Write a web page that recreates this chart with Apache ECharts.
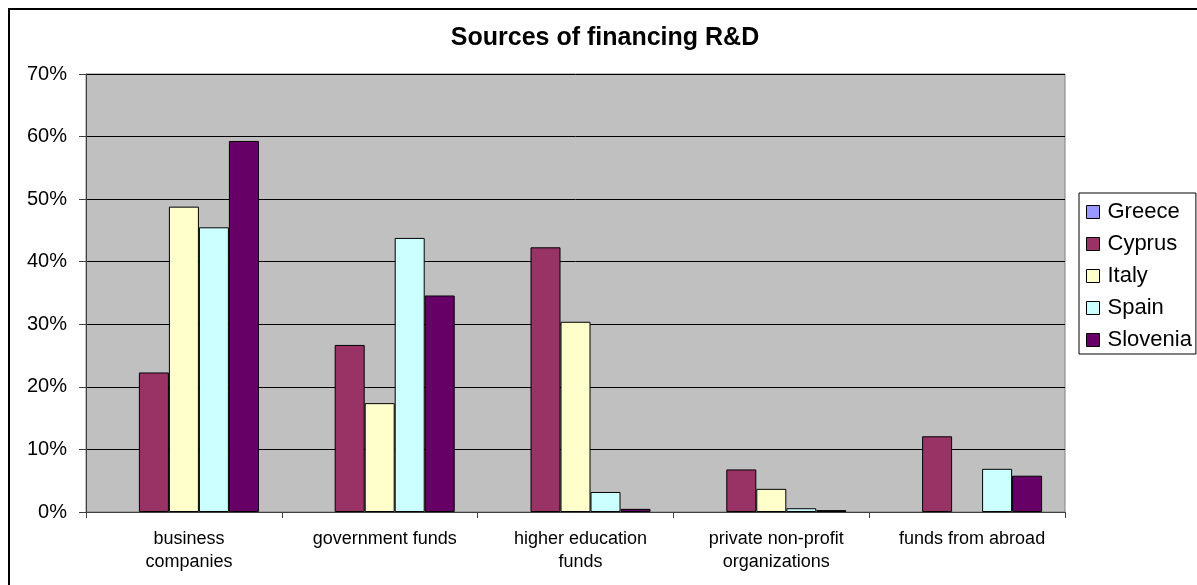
<!DOCTYPE html>
<html>
<head>
<meta charset="utf-8">
<title>Sources of financing R&amp;D</title>
<script src="https://cdn.jsdelivr.net/npm/echarts@6/dist/echarts.min.js"></script>
<style>
  html, body { margin: 0; padding: 0; background: #fff; }
  #chart { width: 1197px; height: 585px; }
</style>
</head>
<body>
<div id="chart"></div>
<script>
// Share of R&D financing by source, percent
const categories = [
  'business\ncompanies',
  'government funds',
  'higher education\nfunds',
  'private non-profit\norganizations',
  'funds from abroad'
];
const countries = ['Greece', 'Cyprus', 'Italy', 'Spain', 'Slovenia'];
const greece   = [null, null, null, null, null];
const cyprus   = [22.3, 26.7, 42.3, 6.8, 12.1];
const italy    = [48.8, 17.4, 30.4, 3.7, null];
const spain    = [45.5, 43.8, 3.2, 0.6, 6.9];
const slovenia = [59.3, 34.6, 0.5, 0.3, 5.8];
const yTicks = [0, 10, 20, 30, 40, 50, 60, 70];

const colors = ['#9999FF', '#993366', '#FFFFCC', '#CCFFFF', '#660066'];
const seriesData = [greece, cyprus, italy, spain, slovenia];
const FONT = '"Liberation Sans", Arial, sans-serif';

const chart = echarts.init(document.getElementById('chart'), null, { renderer: 'canvas' });

chart.setOption({
  animation: false,
  backgroundColor: '#ffffff',
  textStyle: { fontFamily: FONT, color: '#000' },
  title: {
    text: 'Sources of financing R&D',
    left: 600,
    textAlign: 'center',
    top: 21,
    textStyle: { fontFamily: FONT, fontSize: 25, fontWeight: 'bold', color: '#000' }
  },
  graphic: [{
    type: 'rect',
    shape: { x: 9, y: 9, width: 1300, height: 700 },
    style: { fill: 'none', stroke: '#000', lineWidth: 2 },
    silent: true
  }],
  legend: {
    orient: 'vertical',
    left: 1079,
    top: 193,
    padding: [8, 4, 3, 7],
    itemGap: 10,
    itemWidth: 13,
    itemHeight: 13,
    icon: 'rect',
    borderColor: '#000',
    borderWidth: 1,
    backgroundColor: '#fff',
    itemStyle: { borderColor: '#000', borderWidth: 1 },
    textStyle: { fontFamily: FONT, fontSize: 22, color: '#000', lineHeight: 22, padding: [0, 0, 0, 3] },
    data: countries
  },
  grid: {
    left: 86,
    right: 132,
    top: 74,
    bottom: 73,
    show: true,
    backgroundColor: '#C0C0C0',
    borderColor: '#808080',
    borderWidth: 1,
    containLabel: false
  },
  xAxis: {
    type: 'category',
    data: categories,
    axisLine: { show: true, lineStyle: { color: '#404040', width: 1 } },
    axisTick: { show: true, length: 6, lineStyle: { color: '#404040' } },
    axisLabel: {
      interval: 0,
      margin: 16,
      padding: [0, 0, 0, 10],
      fontFamily: FONT,
      fontSize: 18,
      lineHeight: 23,
      color: '#000'
    },
    splitLine: { show: false }
  },
  yAxis: {
    type: 'value',
    min: 0,
    max: yTicks[yTicks.length - 1],
    interval: yTicks[1] - yTicks[0],
    axisLine: { show: true, lineStyle: { color: '#404040', width: 1 } },
    axisTick: { show: true, length: 7, lineStyle: { color: '#404040' } },
    axisLabel: {
      margin: 19,
      fontFamily: FONT,
      fontSize: 20,
      color: '#000',
      formatter: v => v + '%'
    },
    splitLine: { show: true, lineStyle: { color: '#000', width: 1 } }
  },
  series: countries.map((name, i) => ({
    name: name,
    type: 'bar',
    data: seriesData[i],
    barWidth: 30,
    barGap: '0%',
    itemStyle: { color: colors[i], borderColor: '#000', borderWidth: 1 }
  }))
});
</script>
</body>
</html>
